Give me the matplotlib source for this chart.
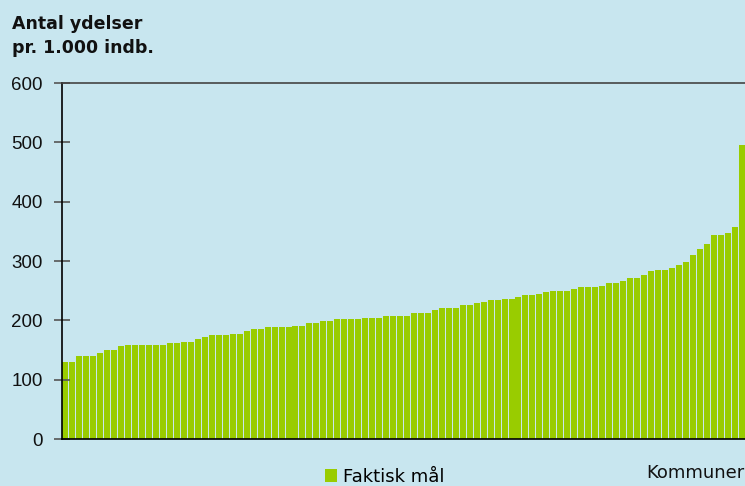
import matplotlib
matplotlib.use("Agg")
import matplotlib.pyplot as plt
from matplotlib.patches import Patch
import numpy as np

# Antal ydelser pr. 1.000 indb. per kommune, sorteret stigende (98 kommuner)
values = [
    130, 130, 140, 140, 140, 145, 150, 150, 157, 158,
    158, 158, 158, 158, 158, 162, 162, 164, 164, 169,
    172, 175, 175, 175, 177, 177, 182, 185, 185, 189,
    189, 189, 189, 190, 190, 195, 195, 199, 199, 202,
    202, 202, 202, 204, 204, 204, 207, 207, 207, 207,
    212, 212, 212, 217, 221, 221, 221, 226, 226, 229,
    231, 234, 234, 236, 236, 239, 243, 243, 244, 248,
    249, 249, 249, 253, 256, 256, 256, 258, 263, 263,
    266, 271, 271, 276, 283, 285, 285, 288, 293, 298,
    310, 320, 329, 344, 344, 347, 357, 495,
]
yticks = [0, 100, 200, 300, 400, 500, 600]
legend_label = "Faktisk mål"
x_label = "Kommuner"
title_lines = ["Antal ydelser", "pr. 1.000 indb."]

bg = "#c8e6ef"
green = "#99cc00"
txt = "#111111"

W, H = 745, 486
plt.rcParams["font.family"] = ["Liberation Sans", "DejaVu Sans"]
# the words in the original are set with wide letter spacing, DejaVu comes closer
wide = ["DejaVu Sans", "Liberation Sans"]

fig = plt.figure(figsize=(W / 100, H / 100), dpi=100, facecolor=bg)
ax = fig.add_axes([62 / W, 1 - 439 / H, 683 / W, 356 / H])
ax.set_facecolor(bg)

x = np.arange(len(values))
ax.bar(x, values, width=0.86, color=green, linewidth=0)

ax.set_xlim(-0.5, len(values) - 0.5)
ax.set_ylim(0, 600)
ax.set_yticks(yticks)
ax.set_yticklabels([str(v) for v in yticks], fontsize=13.5, color=txt)
ax.set_xticks([])
ax.tick_params(axis="y", direction="inout", length=12, width=1.2,
               color="#555555", pad=8)

for side in ["left", "bottom"]:
    ax.spines[side].set_color("black")
    ax.spines[side].set_linewidth(1.2)
ax.spines["top"].set_color("#444444")
ax.spines["top"].set_linewidth(1.2)
ax.spines["right"].set_visible(False)

# title, one text per line so the baselines land where the original has them
for line, base in zip(title_lines, [29, 53]):
    fig.text(12 / W, 1 - base / H, line, fontsize=12.5, fontweight="bold",
             family=wide, ha="left", va="baseline", color=txt)

fig.text(1.0, 1 - 478 / H, x_label, fontsize=13, family=wide,
         ha="right", va="baseline", color=txt)

fig.legend(handles=[Patch(facecolor=green, edgecolor="none", label=legend_label)],
           loc="center left", bbox_to_anchor=(325 / W, 1 - 477 / H),
           frameon=False, prop={"family": wide, "size": 13},
           handlelength=0.68, handleheight=0.68,
           handletextpad=0.3, borderpad=0, borderaxespad=0)

fig.savefig("out.png", dpi=100, facecolor=bg)
